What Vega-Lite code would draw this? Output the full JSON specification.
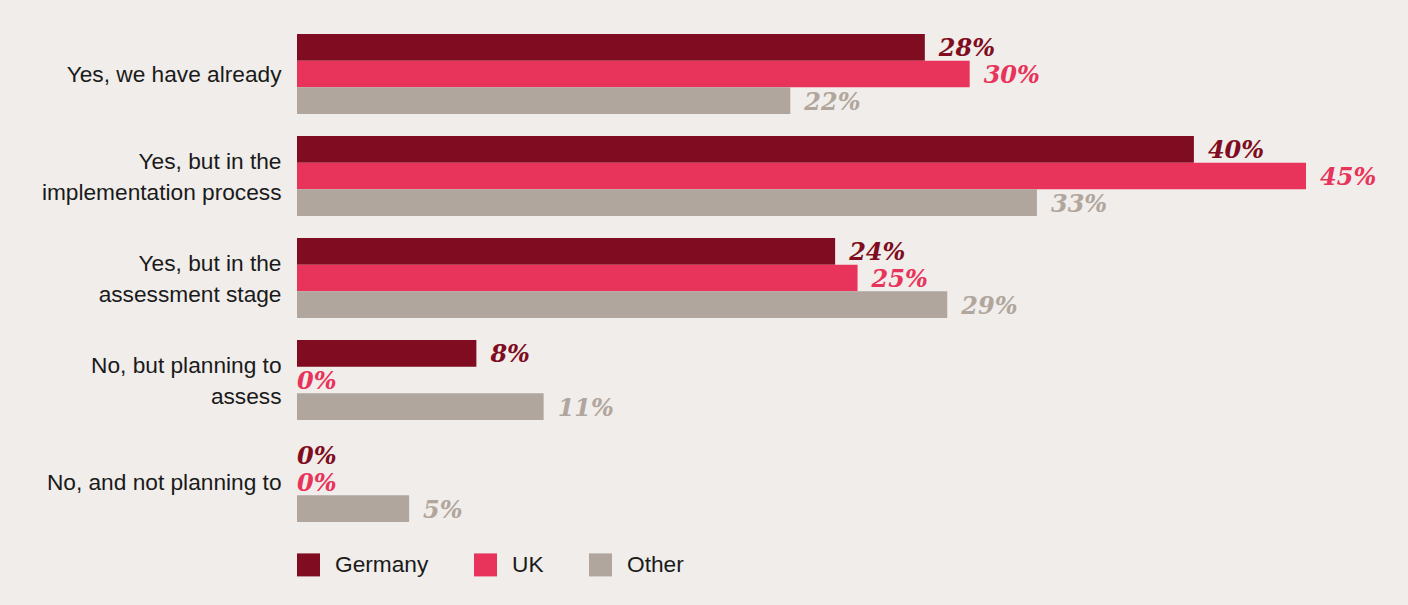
{
  "$schema": "https://vega.github.io/schema/vega-lite/v6.json",
  "autosize": {"type": "none"},
  "width": 1009,
  "height": 510,
  "padding": {"left": 297, "top": 23, "right": 102, "bottom": 72},
  "background": "#f0edea",
  "config": {"view": {"stroke": null}},
  "data": {
    "values": [
      {"answer": "Yes, we have already", "country": "Germany", "value": 0.28},
      {"answer": "Yes, we have already", "country": "UK", "value": 0.30},
      {"answer": "Yes, we have already", "country": "Other", "value": 0.22},
      {"answer": "Yes, but in the|implementation process", "country": "Germany", "value": 0.40},
      {"answer": "Yes, but in the|implementation process", "country": "UK", "value": 0.45},
      {"answer": "Yes, but in the|implementation process", "country": "Other", "value": 0.33},
      {"answer": "Yes, but in the|assessment stage", "country": "Germany", "value": 0.24},
      {"answer": "Yes, but in the|assessment stage", "country": "UK", "value": 0.25},
      {"answer": "Yes, but in the|assessment stage", "country": "Other", "value": 0.29},
      {"answer": "No, but planning to|assess", "country": "Germany", "value": 0.08},
      {"answer": "No, but planning to|assess", "country": "UK", "value": 0},
      {"answer": "No, but planning to|assess", "country": "Other", "value": 0.11},
      {"answer": "No, and not planning to", "country": "Germany", "value": 0},
      {"answer": "No, and not planning to", "country": "UK", "value": 0},
      {"answer": "No, and not planning to", "country": "Other", "value": 0.05}
    ]
  },
  "encoding": {
    "y": {
      "field": "answer",
      "type": "nominal",
      "sort": null,
      "scale": {"paddingInner": 0.216, "paddingOuter": 0.108},
      "axis": {
        "title": null,
        "domain": false,
        "ticks": false,
        "labelPadding": 16,
        "labelFont": "Liberation Sans",
        "labelFontSize": 22.7,
        "labelColor": "#1a1a1a",
        "labelLineHeight": 31,
        "labelLimit": 400,
        "labelOffset": {"condition": {"test": "indexof(datum.value, '|') >= 0", "value": -14}, "value": 1},
        "labelExpr": "split(datum.value, '|')"
      }
    },
    "yOffset": {
      "field": "country",
      "type": "nominal",
      "sort": ["Germany", "UK", "Other"],
      "scale": {"paddingInner": 0, "paddingOuter": 0}
    },
    "x": {
      "field": "value",
      "type": "quantitative",
      "scale": {"domain": [0, 0.45]},
      "axis": null
    },
    "color": {
      "field": "country",
      "type": "nominal",
      "sort": ["Germany", "UK", "Other"],
      "scale": {"domain": ["Germany", "UK", "Other"], "range": ["#7f0c20", "#e8335a", "#b0a69d"]},
      "legend": {
        "title": null,
        "orient": "none",
        "direction": "horizontal",
        "legendX": 0,
        "legendY": 530,
        "symbolType": "square",
        "symbolSize": 529,
        "symbolStrokeWidth": 0,
        "symbolOpacity": 1,
        "labelFont": "Liberation Sans",
        "labelFontSize": 22.7,
        "labelColor": "#1a1a1a",
        "labelOffset": 15,
        "columnPadding": 45
      }
    }
  },
  "layer": [
    {"mark": {"type": "bar", "opacity": 1}},
    {
      "transform": [{"filter": "datum.value > 0"}],
      "mark": {"type": "text", "align": "left", "baseline": "middle", "dx": 14, "dy": 2, "font": "DejaVu Serif", "fontStyle": "italic", "fontWeight": "bold", "fontSize": 24},
      "encoding": {"text": {"field": "value", "type": "quantitative", "format": ".0%"}}
    },
    {
      "transform": [{"filter": "datum.value == 0"}],
      "mark": {"type": "text", "align": "left", "baseline": "middle", "dx": 0, "dy": 2, "font": "DejaVu Serif", "fontStyle": "italic", "fontWeight": "bold", "fontSize": 24},
      "encoding": {"text": {"field": "value", "type": "quantitative", "format": ".0%"}}
    }
  ]
}
